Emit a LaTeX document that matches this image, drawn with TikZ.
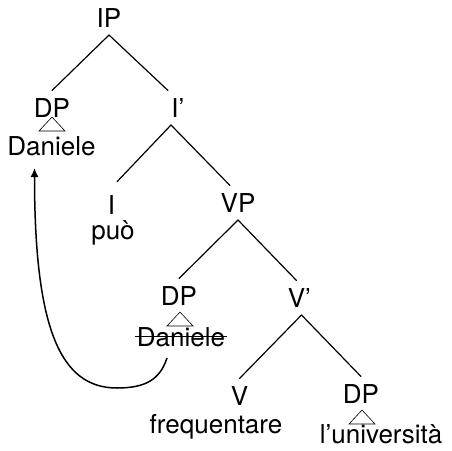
\documentclass[tikz,border=0pt]{standalone}
\usepackage{fontspec}
\setmainfont{TeX Gyre Heros}
\usepackage{tikz}
\usetikzlibrary{arrows.meta, calc}
\newcommand\treefont{\fontsize{26pt}{31pt}\selectfont}
\tikzset{
    lab/.style={font=\treefont, inner sep=0pt, outer xsep=0pt, outer ysep=8pt,
                text height=18.5pt, text depth=0pt, anchor=base},
    branch/.style={line width=1.2pt, line cap=round},
    roof/.style={line width=0.6pt, line join=miter},
    strike/.style={line width=1pt},
    move/.style={-{Latex[length=9pt,width=8pt]}, line width=1.5pt}
}

\begin{document}
\begin{tikzpicture}[x=1pt, y=1pt]
\useasboundingbox (0,0) rectangle (452,-450);

% ── IP level ──────────────────────────────────────────────────────────
\node[lab] at (109,-27)  (ip)    {IP};
\node[lab] at (52,-117)  (dps)   {DP};
\node[lab] at (51.5,-155) (dan)  {Daniele};
\node[lab] at (175,-117) (ibar)  {I\rlap{'}};

% ── I' level ──────────────────────────────────────────────────────────
\node[lab] at (111.5,-214) (infl) {I};
\node[lab] at (113,-239)   (puo)  {può};
\node[lab] at (238,-212)   (vp)   {VP};

% ── VP level ──────────────────────────────────────────────────────────
\node[lab] at (179,-305)   (dpo)   {DP};
\node[lab] at (181,-346)   (trace) {Daniele};
\node[lab] at (296.5,-307) (vbar)  {V\rlap{'}};

% ── V' level ──────────────────────────────────────────────────────────
\node[lab] at (239.5,-405) (verb)  {V};
\node[lab] at (216,-433)   (freq)  {frequentare};
\node[lab] at (361,-403)   (dpobj) {DP};
\node[lab] at (381,-443)   (univ)  {l'università};

% ── Branches ──────────────────────────────────────────────────────────
\draw[branch] (ip.south) -- (dps.north);
\draw[branch] (ip.south) -- ([xshift=-7pt]ibar.north);

\draw[branch, shorten >=8pt] ([xshift=-4pt]ibar.south) -- (infl.north);
\draw[branch] ([xshift=-4pt]ibar.south) -- ([xshift=-8pt]vp.north);

\draw[branch] (vp.south) -- (dpo.north);
\draw[branch] (vp.south) -- (vbar.north);

\draw[branch] ([xshift=5pt]vbar.south) -- (verb.north);
\draw[branch] ([xshift=5pt]vbar.south) -- (dpobj.north);

% ── Roofs over the DPs ────────────────────────────────────────────────
\draw[roof] (dps.base) -- ++(-13,-14) -- ++(26,0) -- cycle;
\draw[roof] ([xshift=1pt,yshift=-7pt]dpo.base) -- ++(-13,-14) -- ++(26,0) -- cycle;
\draw[roof] ([xshift=1pt,yshift=-7pt]dpobj.base) -- ++(-13,-14) -- ++(26,0) -- cycle;

% ── Struck-out trace ──────────────────────────────────────────────────
\draw[strike] ([xshift=-2pt,yshift=10pt]trace.base west) -- ([xshift=2pt,yshift=10pt]trace.base east);

% ── Movement arrow ────────────────────────────────────────────────────
\coordinate (turn) at ($(trace.base)+(-64,-42)$);
\draw[move] ([xshift=-14pt,yshift=-12pt]trace.base)
    to[out=252, in=0, out distance=23pt, in distance=28pt] (turn)
    to[out=180, in=-90, out distance=57pt, in distance=160pt] ([xshift=-17pt,yshift=-13pt]dan.base);
\end{tikzpicture}
\end{document}
